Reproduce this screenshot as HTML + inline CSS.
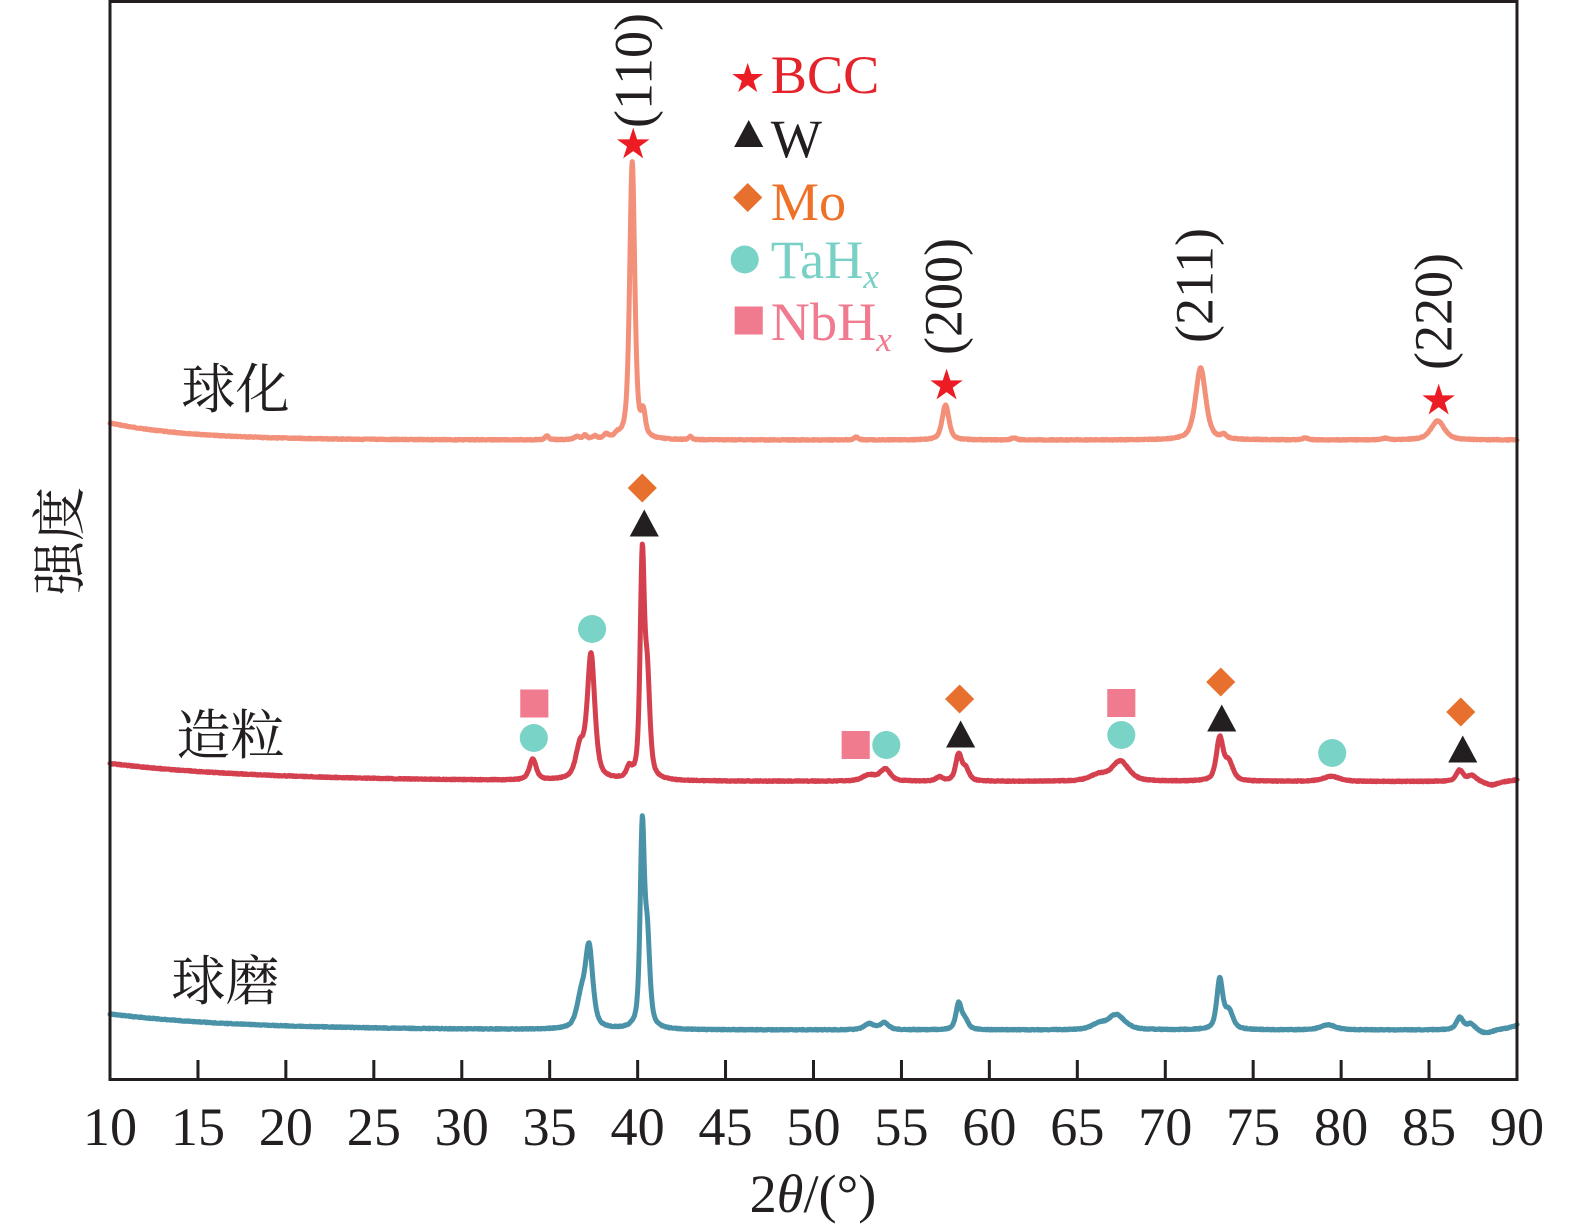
<!DOCTYPE html>
<html>
<head>
<meta charset="utf-8">
<style>
html,body{margin:0;padding:0;background:#fff;}
svg{display:block;}
text{font-family:"Liberation Serif","Noto Serif CJK SC",serif;}
.cjk{font-family:"Noto Serif CJK SC","Liberation Serif",serif;}
</style>
</head>
<body>
<svg width="1575" height="1228" viewBox="0 0 1575 1228" xmlns="http://www.w3.org/2000/svg">
<defs>
<polygon id="st" points="0,-17 3.82,-5.26 16.17,-5.25 6.18,2.01 9.99,13.75 0,6.5 -9.99,13.75 -6.18,2.01 -16.17,-5.25 -3.82,-5.26"/>
<polygon id="tr" points="0,-13.5 14.5,13.5 -14.5,13.5"/>
<polygon id="dm" points="0,-14.5 14.5,0 0,14.5 -14.5,0"/>
<rect id="sq" x="-14" y="-14" width="28" height="28"/>
<circle id="ci" cx="0" cy="0" r="14"/>
</defs>
<rect width="1575" height="1228" fill="#fff"/>

<g transform="translate(110,0) scale(1.00428,1) translate(-110,0)">
<!-- curves -->
<path id="c1" fill="none" stroke="#f39079" stroke-width="5" stroke-linejoin="round" stroke-linecap="round"/>
<path id="c2" fill="none" stroke="#d4404e" stroke-width="5" stroke-linejoin="round" stroke-linecap="round"/>
<path id="c3" fill="none" stroke="#4a92a8" stroke-width="5" stroke-linejoin="round" stroke-linecap="round"/>

<!-- frame -->
<rect x="110" y="1.5" width="1401" height="1078" fill="none" stroke="#231f20" stroke-width="3"/>
<path stroke="#231f20" stroke-width="3" fill="none" d="M197.6,1079.5V1060 M285.1,1079.5V1060 M372.7,1079.5V1060 M460.3,1079.5V1060 M547.8,1079.5V1060 M635.4,1079.5V1060 M722.9,1079.5V1060 M810.5,1079.5V1060 M898.1,1079.5V1060 M985.6,1079.5V1060 M1073.2,1079.5V1060 M1160.8,1079.5V1060 M1248.3,1079.5V1060 M1335.9,1079.5V1060 M1423.4,1079.5V1060"/>

<!-- tick labels -->
<g font-size="54" fill="#231f20" text-anchor="middle">
<text x="110" y="1145">10</text>
<text x="197.6" y="1145">15</text>
<text x="285.1" y="1145">20</text>
<text x="372.7" y="1145">25</text>
<text x="460.3" y="1145">30</text>
<text x="547.8" y="1145">35</text>
<text x="635.4" y="1145">40</text>
<text x="722.9" y="1145">45</text>
<text x="810.5" y="1145">50</text>
<text x="898.1" y="1145">55</text>
<text x="985.6" y="1145">60</text>
<text x="1073.2" y="1145">65</text>
<text x="1160.8" y="1145">70</text>
<text x="1248.3" y="1145">75</text>
<text x="1335.9" y="1145">80</text>
<text x="1423.4" y="1145">85</text>
<text x="1511" y="1145">90</text>
<text x="810" y="1212">2<tspan font-style="italic">θ</tspan>/(°)</text>
</g>

<!-- curve labels -->
<g class="cjk" font-size="54" fill="#231f20">
<text class="cjk" x="181" y="408">球化</text>
<text class="cjk" x="176" y="754">造粒</text>
<text class="cjk" x="171" y="1000">球磨</text>
</g>

<!-- peak index labels -->
<g font-size="54" fill="#231f20" text-anchor="middle">
<text transform="translate(649,70.5) rotate(-90)">(110)</text>
<text transform="translate(958,296.5) rotate(-90)">(200)</text>
<text transform="translate(1208,285.5) rotate(-90)">(211)</text>
<text transform="translate(1446,311.5) rotate(-90)">(220)</text>
</g>

<!-- legend -->
<use href="#st" transform="translate(745,79) scale(0.95)" fill="#ec1c24"/>
<use href="#tr" x="746" y="133.5" fill="#231f20"/>
<use href="#dm" x="745" y="197.5" fill="#e8702f"/>
<use href="#ci" x="742" y="259.5" fill="#7ad3c7"/>
<use href="#sq" x="746" y="320.5" fill="#f17b8e"/>
<g font-size="54">
<text x="768" y="93" fill="#e4232b">BCC</text>
<text x="768" y="157" fill="#231f20">W</text>
<text x="768" y="220" fill="#ee7127">Mo</text>
<text x="768" y="278" fill="#79d0c4">TaH<tspan font-size="35" font-style="italic" dy="10">x</tspan></text>
<text x="768" y="340" fill="#f07a8f">NbH<tspan font-size="35" font-style="italic" dy="11">x</tspan></text>
</g>

<!-- stars on top curve -->
<use href="#st" x="631" y="144.6" fill="#ec1c24"/>
<use href="#st" x="943" y="385.6" fill="#ec1c24"/>
<use href="#st" x="1433" y="400.6" fill="#ec1c24"/>

<!-- markers on middle curve -->
<use href="#sq" x="532.5" y="703.5" fill="#f17b8e"/>
<use href="#ci" x="532" y="738" fill="#7ad3c7"/>
<use href="#ci" x="590" y="629" fill="#7ad3c7"/>
<use href="#dm" x="640" y="488" fill="#e8702f"/>
<use href="#tr" x="642" y="523" fill="#231f20"/>
<use href="#sq" x="852.5" y="745" fill="#f17b8e"/>
<use href="#ci" x="883" y="745" fill="#7ad3c7"/>
<use href="#dm" x="956" y="699" fill="#e8702f"/>
<use href="#tr" x="957" y="734" fill="#231f20"/>
<use href="#sq" x="1117" y="703" fill="#f17b8e"/>
<use href="#ci" x="1117" y="735" fill="#7ad3c7"/>
<use href="#dm" x="1216" y="682" fill="#e8702f"/>
<use href="#tr" x="1217" y="718" fill="#231f20"/>
<use href="#ci" x="1327" y="753" fill="#7ad3c7"/>
<use href="#dm" x="1455" y="712" fill="#e8702f"/>
<use href="#tr" x="1457" y="749" fill="#231f20"/>
</g>

<!-- y label -->
<text class="cjk" font-size="54" fill="#231f20" text-anchor="middle" transform="translate(78.5,541) rotate(-90)">强度</text>
</svg>
<script>
function pv(x,c,h,w){var t=(x-c)/w,t2=t*t;return h*(0.6/(1+t2)+0.4*Math.exp(-0.693*t2));}
function mk(id,base,peaks,seed,amp){
  var s=seed,d='';
  for(var i=0;i<=2802;i++){
    var x=110+i*0.5; if(x>1511)x=1511;
    s=(s*9301+49297)%233280;
    var y=base(x)+(s/233280-0.5)*amp;
    for(var j=0;j<peaks.length;j++){var p=peaks[j];y-=pv(x,p[0],p[1],p[2]);}
    d+=(i?'L':'M')+x.toFixed(1)+' '+y.toFixed(2);
  }
  document.getElementById(id).setAttribute('d',d);
}
mk('c1',function(x){return 440-17*Math.exp(-(x-110)/80);},
 [[630,278,3],[641,22,2.5],[942,35,4],[1196,72,6],[1219,4,3],[1432,19,8],
  [545,4,2],[575,3,3],[583,4,2.5],[593,3,2.5],[604,4,3],[615,3,3],[688,3,2],
  [853,3,2.5],[1010,2,3],[1300,2,3],[1380,1.5,4]],17,0.9);
mk('c2',function(x){return 781.5-18*Math.exp(-(x-110)/150);},
 [[531,21,4],[578,30,5],[589,124,4.5],[627,10,3],[640,215,2.5],[645,95,3],
  [866,6,8],[882,12,6],[936,4,4],[955,26,3.5],[962,12,4],[1094,6,10],[1116,20,10],
  [1215,42,4],[1224,18,5],[1326,5,10],[1454,11,4],[1466,6,5],[1486,-4,8],[1530,8,12]],29,0.9);
mk('c3',function(x){return 1030-16*Math.exp(-(x-110)/130);},
 [[579,28,5],[587,80,4.5],[640,195,2.5],[645,85,3],[866,6,6],[881,7,5],
  [955,25,3.2],[961,10,4],[1094,5,8],[1112,15,10],[1215,49,3.5],[1224,18,5],
  [1323,5,9],[1454,12,4],[1465,6,5],[1480,-4,8],[1530,16,14]],41,0.9);
</script>
</body>
</html>
